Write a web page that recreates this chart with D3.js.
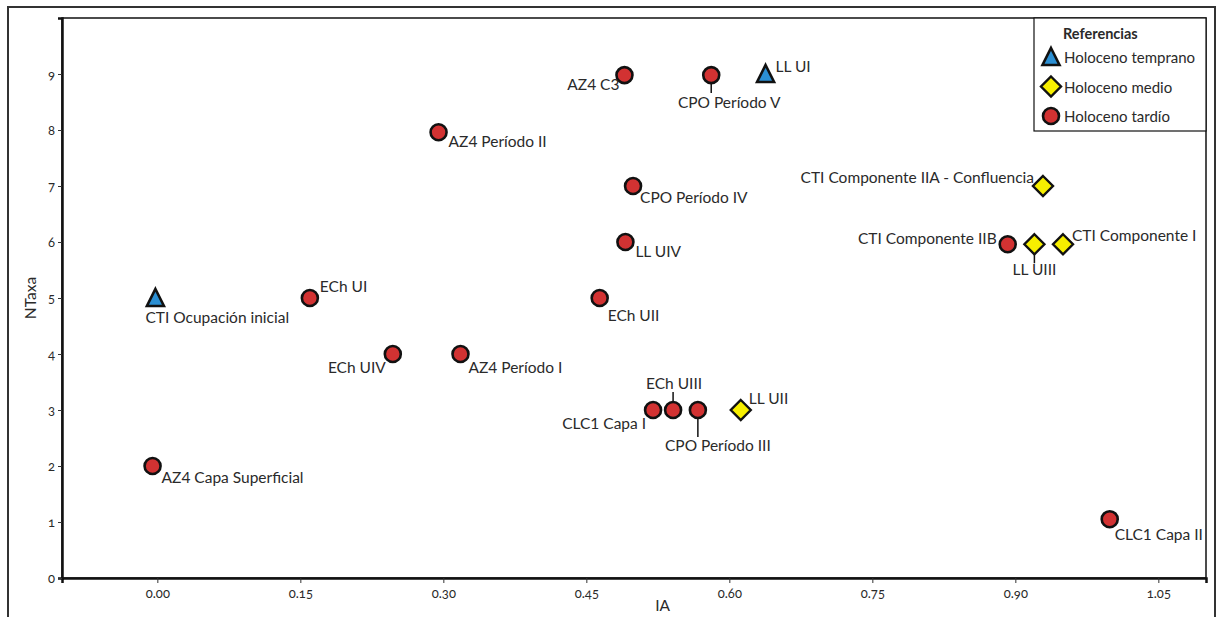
<!DOCTYPE html>
<html><head><meta charset="utf-8">
<script src="https://cdn.jsdelivr.net/npm/d3@7"></script>
<style>
body{margin:0;background:#fff;}
svg text{font-family:Lato,"Open Sans",sans-serif;fill:#2a2a2a;}
</style></head>
<body><svg id="c" width="1219" height="617"></svg>
<script>
const names = ["CTI Ocupación inicial","LL UI","ECh UI","ECh UIV","AZ4 Período I","AZ4 Capa Superficial","AZ4 Período II","AZ4 C3","CPO Período V","CPO Período IV","LL UIV","ECh UII","CLC1 Capa I","ECh UIII","CPO Período III","LL UII","CTI Componente IIA - Confluencia","CTI Componente IIB","LL UIII","CTI Componente I","CLC1 Capa II"];
const ia =    [-0.002, 0.638, 0.160, 0.247, 0.318, -0.005, 0.295, 0.490, 0.581, 0.499, 0.491, 0.464, 0.520, 0.541, 0.567, 0.612, 0.929, 0.892, 0.920, 0.950, 0.999];
const ntaxa = [5, 9, 5, 4, 4, 2, 7.96, 8.98, 8.98, 7, 6, 5, 3, 3, 3, 3, 7, 5.96, 5.96, 5.96, 1.05];
const period = ["temprano","temprano","tardío","tardío","tardío","tardío","tardío","tardío","tardío","tardío","tardío","tardío","tardío","tardío","tardío","medio","medio","tardío","medio","medio","tardío"];
const xTicks = [0, 0.15, 0.30, 0.45, 0.60, 0.75, 0.90, 1.05];
const yTicks = [0,1,2,3,4,5,6,7,8,9];
const legendLabels = ["Holoceno temprano","Holoceno medio","Holoceno tardío"];
const legendKeys = ["temprano","medio","tardío"];

// label placement (style): [anchor, dx, dy, leaderFrom, leaderTo, leaderDx]
const place = {
 "CTI Ocupación inicial":["start",-10,25],
 "LL UI":["start",10,-2],
 "ECh UI":["start",10,-6],
 "ECh UIV":["end",-7,19],
 "AZ4 Período I":["start",8,19],
 "AZ4 Capa Superficial":["start",9,17],
 "AZ4 Período II":["start",10,15],
 "AZ4 C3":["end",-5,15],
 "CPO Período V":["middle",18,33,9,18,0],
 "CPO Período IV":["start",7,17],
 "LL UIV":["start",10,15],
 "ECh UII":["start",8,23],
 "CLC1 Capa I":["end",-7,19],
 "ECh UIII":["middle",1,-21,-18,-9,0],
 "CPO Período III":["middle",20,41,9,27,0],
 "LL UII":["start",8,-6],
 "CTI Componente IIA - Confluencia":["end",-9,-3],
 "CTI Componente IIB":["end",-11,0],
 "LL UIII":["middle",0,31,9,19,0],
 "CTI Componente I":["start",9,-3],
 "CLC1 Capa II":["start",5,21]
};

const colors = {temprano:"#2b8fd3", medio:"#f7ef00", "tardío":"#d23232"};
const svg = d3.select("#c");
const L=62, R=1206, T=18, B=578;
const x = d3.scaleLinear().domain([-0.1,1.1]).range([L,R]);
const y = d3.scaleLinear().domain([0,10]).range([B,T]);

// outer frame
svg.append("rect").attr("x",8).attr("y",7).attr("width",1207).attr("height",640)
  .attr("fill","none").attr("stroke","#333").attr("stroke-width",2);
// plot box
svg.append("rect").attr("x",L).attr("y",T).attr("width",R-L).attr("height",B-T)
  .attr("fill","none").attr("stroke","#111").attr("stroke-width",1.5);

const xAxis = svg.append("g").attr("transform",`translate(0,${B})`)
  .call(d3.axisBottom(x).tickValues(xTicks).tickFormat(d3.format(".2f")).tickSize(5).tickPadding(6));
const yAxis = svg.append("g").attr("transform",`translate(${L},0)`)
  .call(d3.axisLeft(y).tickValues(yTicks).tickSize(4).tickPadding(3));
[xAxis,yAxis].forEach(a=>{
  a.select(".domain").attr("stroke","#111").attr("stroke-width",2.5);
  a.selectAll(".tick line").attr("stroke","#333");
  a.selectAll(".tick text").attr("font-size",13).attr("fill","#333")
   .style("font-variant-numeric","oldstyle-nums").style("font-feature-settings","'onum'");
});

svg.append("text").attr("x",x(0.53)).attr("y",611).attr("text-anchor","middle").attr("font-size",15.5).text("IA");
svg.append("text").attr("transform",`translate(36,${y(5)}) rotate(-90)`).attr("text-anchor","middle").attr("font-size",15.5).text("NTaxa");

function drawSymbol(g, kind, cx, cy){
  const c = colors[kind];
  if(kind==="temprano"){
    g.append("path").attr("d",`M${cx},${cy-9}L${cx+8.5},${cy+8}L${cx-8.5},${cy+8}Z`)
     .attr("fill",c).attr("stroke","#111").attr("stroke-width",2.6).attr("stroke-linejoin","miter");
  } else if(kind==="medio"){
    g.append("path").attr("d",`M${cx},${cy-10}L${cx+10},${cy}L${cx},${cy+10}L${cx-10},${cy}Z`)
     .attr("fill",c).attr("stroke","#111").attr("stroke-width",2.4);
  } else {
    g.append("circle").attr("cx",cx).attr("cy",cy).attr("r",8)
     .attr("fill",c).attr("stroke","#111").attr("stroke-width",2.6);
  }
}

const pts = svg.append("g");
names.forEach((n,i)=>{
  const px=x(ia[i]), py=y(ntaxa[i]);
  const p = place[n];
  if(p.length>3){
    pts.append("line").attr("x1",px+p[5]).attr("x2",px+p[5]).attr("y1",py+p[3]).attr("y2",py+p[4])
      .attr("stroke","#111").attr("stroke-width",1.5);
  }
  drawSymbol(pts, period[i], px, py);
  pts.append("text").attr("x",px+p[1]).attr("y",py+p[2]).attr("text-anchor",p[0])
    .attr("font-size",15.5).text(n);
});

// legend
const lg = svg.append("g");
lg.append("rect").attr("x",1034).attr("y",T).attr("width",R-1034).attr("height",113)
  .attr("fill","#fff").attr("stroke","#111").attr("stroke-width",1.2);
lg.append("text").attr("x",1063).attr("y",39).attr("font-size",14.5).attr("font-weight","bold").text("Referencias");
legendKeys.forEach((k,i)=>{
  const cy = 57 + i*29.5;
  drawSymbol(lg,k,1051,cy);
  lg.append("text").attr("x",1064).attr("y",cy+6).attr("font-size",15).text(legendLabels[i]);
});
</script></body></html>
